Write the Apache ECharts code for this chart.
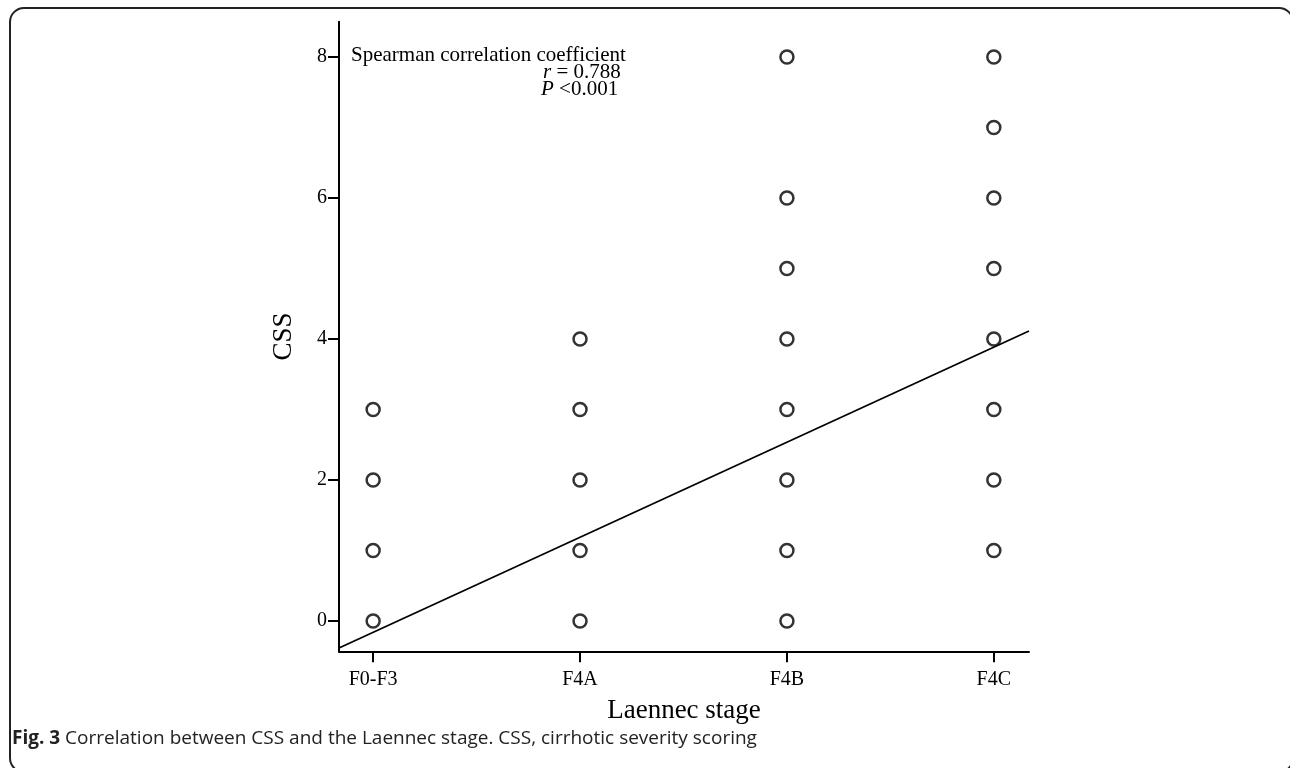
<!DOCTYPE html>
<html>
<head>
<meta charset="utf-8">
<script src="https://cdn.jsdelivr.net/npm/echarts@6/dist/echarts.min.js"></script>
<style>
  html, body { margin: 0; padding: 0; background: #fff; }
  #chart { width: 1290px; height: 768px; }
</style>
</head>
<body>
<div id="chart"></div>
<script>
// categories on the x axis (Laennec stage)
const stages = ['F0-F3', 'F4A', 'F4B', 'F4C']
// CSS values observed for each stage
const cssF0F3 = [0, 1, 2, 3]
const cssF4A = [0, 1, 2, 3, 4]
const cssF4B = [0, 1, 2, 3, 4, 5, 6, 8]
const cssF4C = [1, 2, 3, 4, 5, 6, 7, 8]
const yTicks = [0, 2, 4, 6, 8]
// fitted line
const fitIntercept = -0.16
const fitSlope = 1.348

const xMin = -0.165
const xMax = 3.17
const yMin = -0.43
const yMax = 8.5

const groups = [cssF0F3, cssF4A, cssF4B, cssF4C]
const points = []
groups.forEach((vals, i) => {
  vals.forEach(v => points.push([i, v]))
})

const fitLine = [
  [xMin, fitIntercept + fitSlope * xMin],
  [xMax, fitIntercept + fitSlope * xMax]
]

const serif = '"Liberation Serif", "Times New Roman", serif'
const chart = echarts.init(document.getElementById('chart'))

const option = {
  backgroundColor: '#fff',
  animation: false,
  grid: {
    left: 339,
    right: 261,
    top: 21.75,
    bottom: 768 - 651.3
  },
  xAxis: {
    type: 'value',
    min: xMin,
    max: xMax,
    name: 'Laennec stage',
    nameLocation: 'middle',
    nameGap: 46,
    nameTextStyle: { fontFamily: serif, fontSize: 27, color: '#000' },
    axisLine: { show: true, onZero: false, lineStyle: { color: '#000', width: 2 } },
    axisTick: { show: true, customValues: [0, 1, 2, 3], length: 11, lineStyle: { color: '#000', width: 2 } },
    axisLabel: {
      customValues: [0, 1, 2, 3],
      formatter: v => stages[Math.round(v)],
      fontFamily: serif,
      fontSize: 20,
      color: '#000',
      margin: 18
    },
    splitLine: { show: false }
  },
  yAxis: {
    type: 'value',
    min: yMin,
    max: yMax,
    name: 'CSS',
    nameLocation: 'middle',
    nameGap: 42,
    nameTextStyle: { fontFamily: serif, fontSize: 27, color: '#000' },
    axisLine: { show: true, onZero: false, lineStyle: { color: '#000', width: 2 } },
    axisTick: { show: true, customValues: yTicks, length: 11, lineStyle: { color: '#000', width: 2 } },
    axisLabel: {
      customValues: yTicks,
      fontFamily: serif,
      fontSize: 20,
      color: '#000',
      margin: 12
    },
    splitLine: { show: false }
  },
  series: [
    {
      type: 'scatter',
      data: points,
      symbol: 'circle',
      symbolSize: 13,
      itemStyle: { color: '#fff', borderColor: '#000', borderWidth: 2.5 },
      z: 3
    },
    {
      type: 'line',
      data: fitLine,
      showSymbol: false,
      lineStyle: { color: '#000', width: 1.8 },
      z: 2
    }
  ],
  graphic: [
    {
      type: 'rect',
      shape: { x: 10, y: 8, width: 1283, height: 764, r: 14 },
      style: { fill: 'none', stroke: '#222', lineWidth: 2 },
      silent: true
    },
    {
      type: 'text',
      left: 351,
      top: 45,
      style: { text: 'Spearman correlation coefficient', font: '21px ' + serif, fill: '#000' }
    },
    {
      type: 'text',
      left: 543,
      top: 62,
      style: {
        text: '{i|r} = 0.788',
        font: '21px ' + serif,
        fill: '#000',
        rich: { i: { fontStyle: 'italic', fontFamily: serif, fontSize: 21 } }
      }
    },
    {
      type: 'text',
      left: 541,
      top: 79,
      style: {
        text: '{i|P} <0.001',
        font: '21px ' + serif,
        fill: '#000',
        rich: { i: { fontStyle: 'italic', fontFamily: serif, fontSize: 21 } }
      }
    },
    {
      type: 'text',
      left: 12,
      top: 729,
      style: {
        text: '{b|Fig. 3} Correlation between CSS and the Laennec stage. CSS, cirrhotic severity scoring',
        font: '19px "Open Sans", sans-serif',
        fill: '#222',
        rich: { b: { fontWeight: 'bold', fontFamily: '"Open Sans", sans-serif', fontSize: 19, fill: '#222' } }
      }
    }
  ]
}

chart.setOption(option)
</script>
</body>
</html>
